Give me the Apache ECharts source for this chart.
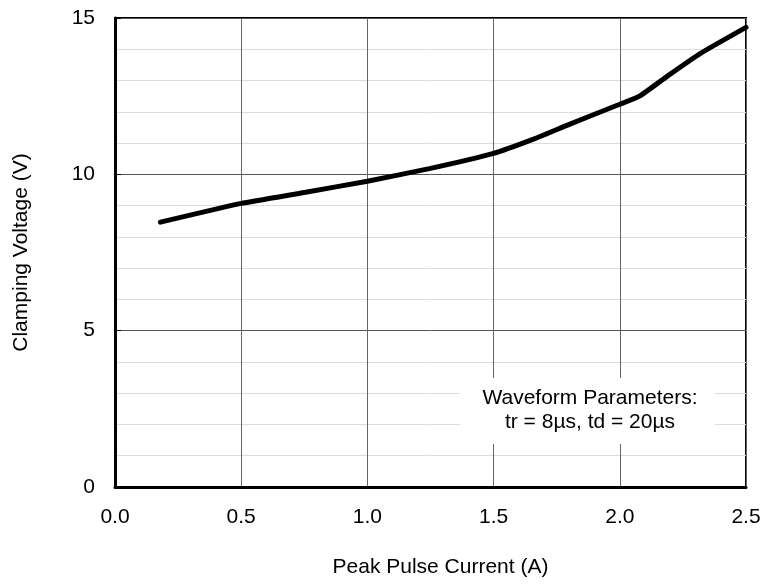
<!DOCTYPE html>
<html><head><meta charset="utf-8">
<script src="https://cdn.jsdelivr.net/npm/echarts@6/dist/echarts.min.js"></script>
<style>html,body{margin:0;padding:0;background:#fff}#c{width:760px;height:584px}</style>
</head><body><div id="c"></div>
<script>
const currentA = [0.18, 0.5, 0.75, 1.0, 1.25, 1.5, 1.65, 1.8, 2.0, 2.08, 2.19, 2.32, 2.5];
const voltageV = [8.47, 9.07, 9.42, 9.78, 10.19, 10.67, 11.1, 11.6, 12.24, 12.51, 13.15, 13.87, 14.7];
const xTicks = ['0.0','0.5','1.0','1.5','2.0','2.5'];
const annotation = ['Waveform Parameters:', 'tr = 8µs, td = 20µs'];

const chart = echarts.init(document.getElementById('c'));
const font = 'Liberation Sans, Arial, sans-serif';
chart.setOption({
  animation: false,
  grid: {left: 115, right: 14, top: 18, bottom: 97, show: true, borderColor: '#000', borderWidth: 2,
    containLabel: false, outerBoundsMode: 'none'},
  xAxis: {
    type: 'value', min: 0, max: 2.5, interval: 0.5,
    name: 'Peak Pulse Current (A)', nameLocation: 'middle', nameGap: 70,
    nameTextStyle: {fontFamily: font, fontSize: 21, color: '#000', padding: [0, 0, 0, 20]},
    axisLine: {show: true, onZero: false, lineStyle: {color: '#000', width: 3}},
    axisTick: {show: false},
    axisLabel: {fontFamily: font, fontSize: 21, color: '#000', margin: 20,
      formatter: v => xTicks[Math.round(v / 0.5)]},
    splitLine: {show: true, lineStyle: {color: '#666', width: 1}}
  },
  yAxis: {
    type: 'value', min: 0, max: 15, interval: 5,
    name: 'Clamping Voltage (V)', nameLocation: 'middle', nameGap: 83,
    nameTextStyle: {fontFamily: font, fontSize: 21, color: '#000'},
    axisLine: {show: true, lineStyle: {color: '#000', width: 3}},
    axisTick: {show: true, inside: true, length: 6, lineStyle: {color: '#000', width: 1}},
    axisLabel: {fontFamily: font, fontSize: 21, color: '#000', margin: 20},
    splitLine: {show: true, lineStyle: {color: '#555', width: 1}},
    minorTick: {show: false, splitNumber: 5},
    minorSplitLine: {show: true, lineStyle: {color: '#dcdcdc', width: 1}}
  },
  series: [{
    type: 'line', smooth: 0.15, symbol: 'none',
    data: currentA.map((x, i) => [x, voltageV[i]]),
    lineStyle: {color: '#000', width: 5, cap: 'round'},
    z: 5
  }],
  graphic: [
    {type: 'rect', z: 10, shape: {x: 460, y: 378, width: 255, height: 66}, style: {fill: '#fff'}},
    {type: 'text', z: 11, x: 590, y: 410, style: {text: annotation.join('\n'), fill: '#000',
      font: '21px ' + font, align: 'center', verticalAlign: 'middle', lineHeight: 24}}
  ]
});
</script></body></html>
